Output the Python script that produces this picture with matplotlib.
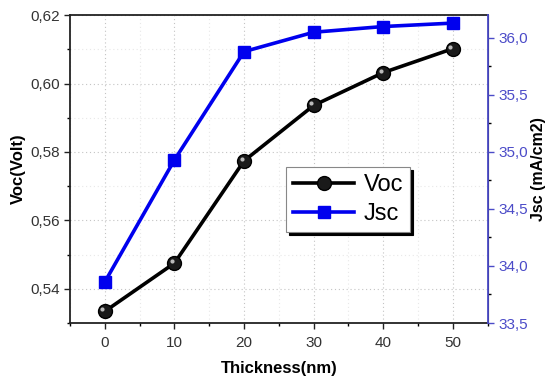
import matplotlib

matplotlib.use("Agg")
import matplotlib.pyplot as plt  # noqa: E402
from matplotlib.ticker import FuncFormatter, MultipleLocator  # noqa: E402

plt.rcParams["font.family"] = ["Liberation Sans", "DejaVu Sans"]

# Dados
thickness = [0, 10, 20, 30, 40, 50]
voc = [0.5334, 0.5475, 0.5774, 0.5936, 0.6032, 0.6102]
jsc = [33.86, 34.93, 35.88, 36.05, 36.10, 36.13]

AZUL = "#0000ee"
AZUL_EIXO = "#4b4bc8"
TEXTO = "#333333"


def virgula(fmt):
    return FuncFormatter(lambda v, _p: format(v, fmt).replace(".", ","))


fig = plt.figure(figsize=(5.47, 3.78), dpi=100)
ax = fig.add_axes([0.128, 0.1455, 0.7636, 0.8145])
ax2 = ax.twinx()

l1, = ax.plot(thickness, voc, color="black", lw=2.6, marker="o", ms=10,
              markerfacecolor="#1a1a1a", markeredgecolor="black", label="Voc",
              zorder=3)
# brilho na bolinha
ax.plot([x - 0.35 for x in thickness], [v + 0.0006 for v in voc], ls="none",
        marker="o", ms=3, markerfacecolor="#bbbbbb", markeredgecolor="none", zorder=4)
l2, = ax2.plot(thickness, jsc, color=AZUL, lw=2.6, marker="s", ms=9,
               markerfacecolor=AZUL, markeredgecolor=AZUL, label="Jsc", zorder=3)

ax.set_xlim(-5, 55)
ax.set_ylim(0.530, 0.620)
ax2.set_ylim(33.5, 36.2)

ax.xaxis.set_major_locator(MultipleLocator(10))
ax.xaxis.set_minor_locator(MultipleLocator(5))
ax.yaxis.set_major_locator(MultipleLocator(0.02))
ax.yaxis.set_minor_locator(MultipleLocator(0.01))
ax.yaxis.set_major_formatter(virgula(".2f"))
ax2.yaxis.set_major_locator(MultipleLocator(0.5))
ax2.yaxis.set_minor_locator(MultipleLocator(0.25))
ax2.yaxis.set_major_formatter(virgula(".1f"))

ax.grid(True, which="major", ls=(0, (1, 2.5)), color="#c4c4c4", lw=0.8)
ax.grid(True, which="minor", ls=(0, (1, 2.5)), color="#e8e8e8", lw=0.8)
ax.set_axisbelow(True)

for a in (ax, ax2):
    a.tick_params(which="major", length=4, width=1, labelsize=11, direction="out")
    a.tick_params(which="minor", length=2.5, width=1, direction="out")
ax.tick_params(axis="both", colors="#222222", labelcolor=TEXTO)
ax2.tick_params(axis="y", colors=AZUL_EIXO, labelcolor=AZUL_EIXO)
ax.tick_params(axis="x", pad=5)

ax2.spines["right"].set_color(AZUL_EIXO)
ax2.spines["right"].set_linewidth(1.3)
for s in ("left", "bottom", "top"):
    ax.spines[s].set_linewidth(1.3)
    ax.spines[s].set_color("#222222")
ax2.spines["left"].set_visible(False)
ax2.spines["top"].set_visible(False)
ax2.spines["bottom"].set_visible(False)

ax.set_xlabel("Thickness(nm)", fontsize=12, weight="bold", labelpad=8)
ax.set_ylabel("Voc(Volt)", fontsize=12, weight="bold", labelpad=3)
ax2.set_ylabel("Jsc (mA/cm2)", fontsize=11.5, weight="bold", labelpad=2)

leg = ax2.legend(handles=[l1, l2], loc="upper left", bbox_to_anchor=(0.517, 0.506),
                 fontsize=17, fancybox=False, shadow={"color": "black", "alpha": 1},
                 edgecolor="#888888", framealpha=1, borderpad=0.3, borderaxespad=0,
                 handlelength=2.6, labelspacing=0.3, handletextpad=0.4)
leg.get_frame().set_linewidth(0.8)

fig.savefig("out.png", dpi=100, facecolor="white")
